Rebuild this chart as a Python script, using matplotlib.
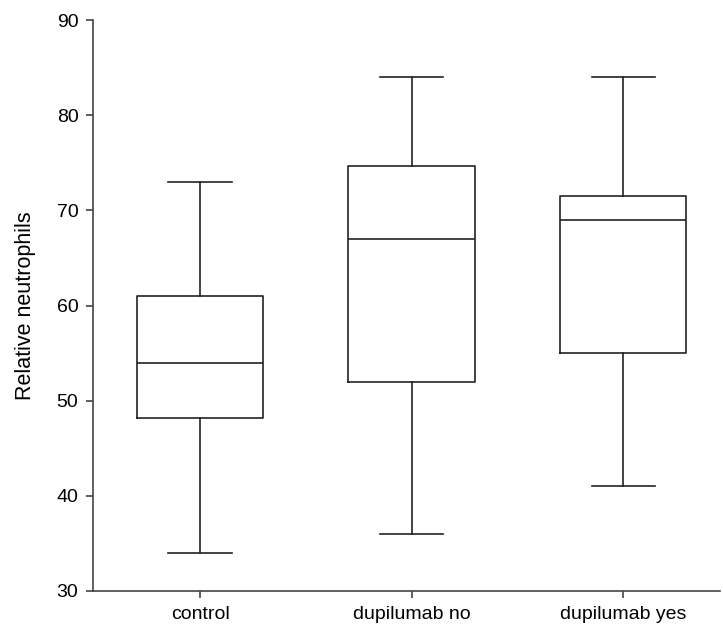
import matplotlib
matplotlib.use("Agg")
import matplotlib.pyplot as plt

plt.rcParams["font.family"] = ["Liberation Sans", "DejaVu Sans"]

groups = ["control", "dupilumab no", "dupilumab yes"]
whisker_low = [34, 36, 41]
q1 = [48.2, 52.0, 55.0]
median = [54, 67, 69]
q3 = [61, 74.7, 71.5]
whisker_high = [73, 84, 84]

stats = []
for i, name in enumerate(groups):
    stats.append({
        "label": name,
        "whislo": whisker_low[i],
        "q1": q1[i],
        "med": median[i],
        "q3": q3[i],
        "whishi": whisker_high[i],
        "fliers": [],
    })

fig = plt.figure(figsize=(7.23, 6.31), dpi=100)
ax = fig.add_axes([0.1286, 0.0634, 0.8674, 0.9046])

line_color = "#222222"
lw = 1.2
ax.bxp(
    stats,
    positions=[1, 2, 3],
    widths=0.599,
    capwidths=0.298,
    showfliers=False,
    boxprops=dict(color=line_color, linewidth=lw),
    medianprops=dict(color=line_color, linewidth=lw),
    whiskerprops=dict(color=line_color, linewidth=lw),
    capprops=dict(color=line_color, linewidth=lw),
)

ax.set_xlim(0.494, 3.459)
ax.set_ylim(30, 90)
ax.set_yticks([30, 40, 50, 60, 70, 80, 90])
ax.set_ylabel("Relative neutrophils", fontsize=15.5, labelpad=14.5)

for side in ["top", "right"]:
    ax.spines[side].set_visible(False)
for side in ["left", "bottom"]:
    ax.spines[side].set_color("#444444")
    ax.spines[side].set_linewidth(1.2)

ax.tick_params(axis="both", direction="out", length=5, width=1.2, color="#444444",
               labelsize=14, labelcolor="black")
ax.tick_params(axis="y", pad=5.5)
ax.tick_params(axis="x", pad=6)

fig.savefig("out.png", dpi=100)
